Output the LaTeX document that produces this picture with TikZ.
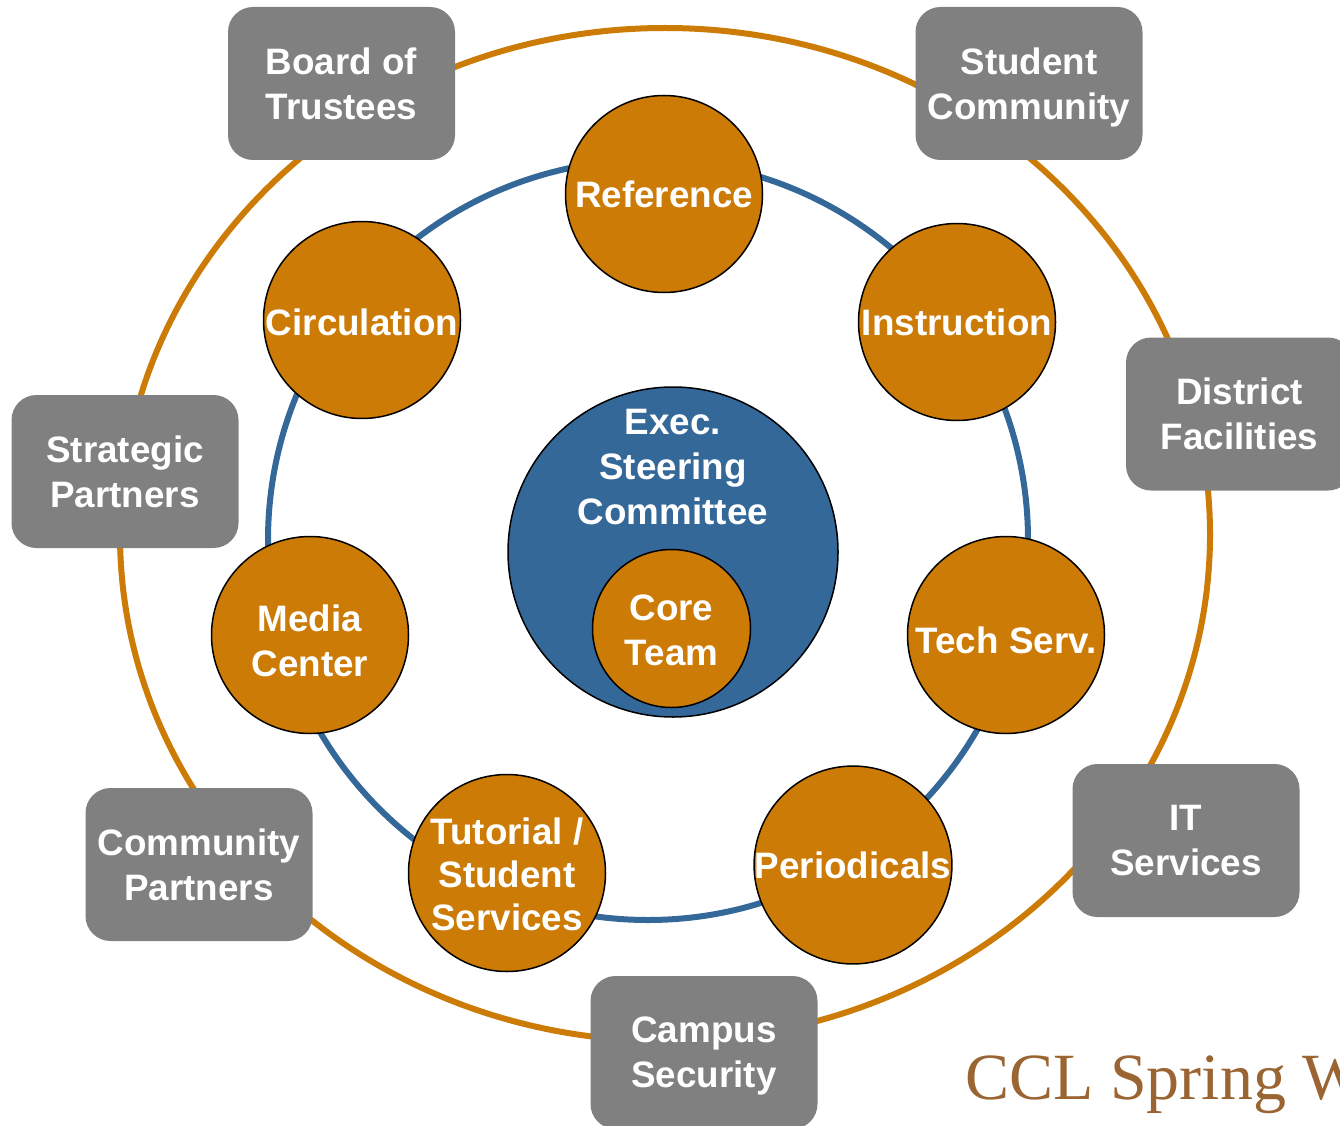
\documentclass[tikz,border=0pt]{standalone}
\usepackage{fontspec}
\newfontfamily\labfont{Liberation Sans}
\newfontfamily\cclfont{Liberation Serif}
\definecolor{ringorange}{RGB}{204,123,6}
\definecolor{ringblue}{RGB}{52,104,153}
\definecolor{boxgray}{RGB}{128,128,128}
\definecolor{cclbrown}{RGB}{154,101,50}
\newcommand{\nodepth}[1]{\raisebox{0pt}[\height][0pt]{#1}}
\begin{document}
\begin{tikzpicture}[x=1pt,y=-1pt,
  lab/.style={font={\labfont\bfseries\fontsize{36.8}{45}\selectfont}, text=white, align=center},
  unit/.style={lab, circle, fill=ringorange, draw=black, line width=1.5pt, minimum size=197pt, inner sep=0pt},
  partner/.style={lab, rectangle, rounded corners=25pt, fill=boxgray, minimum width=227pt, minimum height=153pt, inner sep=0pt},
  ring/.style={line width=6pt}]
\useasboundingbox (0,0) rectangle (1340,1126);
\clip (0,0) rectangle (1340,1126);
% rings
\draw[ring, ringorange] (665,534.5) ellipse [x radius=545pt, y radius=506.5pt];
\draw[ring, ringblue] (648,540) circle [radius=380pt];
% partner boxes
\node[partner] (board) at (341.5,83.5) {Board of\\Trustees};
\node[partner] (student) at (1029,83.5) {Student\\\nodepth{Community}};
\node[partner] (district) at (1239.5,414) {District\\Facilities};
\node[partner] (strategic) at (125,471.5) {Strategic\\Partners};
\node[partner] (community) at (199,864.5) {Community\\Partners};
\node[partner] (it) at (1186,840.5) {IT\\Services};
\node[partner] (campus) at (704,1052.5) {Campus\\\nodepth{Security}};
% library units
\node[unit] (ref) at (664,194) {Reference};
\node[unit] (circ) at (362,320) {\rule{0pt}{32pt}Circulation};
\node[unit] (instr) at (957,322) {Instruction};
\node[unit] (media) at (310,635) {\rule{0pt}{38pt}Media\\Center};
\node[unit] (tech) at (1006,635) {\rule{0pt}{38pt}Tech Serv.};
\node[unit, font={\labfont\bfseries\fontsize{36.8}{43}\selectfont}] (tut) at (507,873) {\rule{0pt}{29pt}Tutorial /\\Student\\Services};
\node[unit] (per) at (853,865) {Periodicals};
% centre
\node[circle, fill=ringblue, draw=black, line width=1.5pt, minimum size=330pt, inner sep=0pt] (esc) at (673,552) {};
\node[lab] (esclbl) at (673,467) {Exec.\\Steering\\Committee};
\node[unit, minimum size=158pt] (core) at (671.5,628.5) {\rule{0pt}{29pt}Core\\Team};
% footer
\node[anchor=base west, inner sep=0pt, text=cclbrown, font={\cclfont\fontsize{66}{72}\selectfont}] (ccl) at (965,1099) {CCL Spring W};
\end{tikzpicture}
\end{document}
